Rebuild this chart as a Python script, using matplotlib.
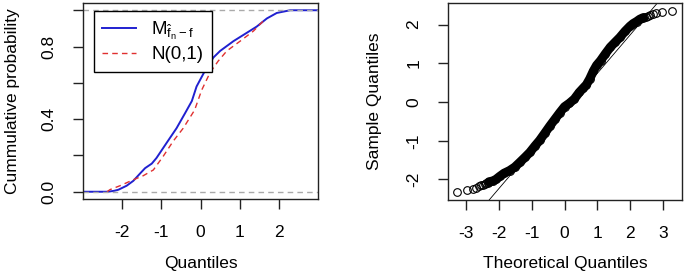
import matplotlib
matplotlib.use("Agg")
import matplotlib.pyplot as plt

plt.rcParams['font.family'] = ['Liberation Sans', 'DejaVu Sans']
plt.rcParams['mathtext.fontset'] = 'custom'
plt.rcParams['mathtext.rm'] = 'Liberation Sans'
plt.rcParams['mathtext.it'] = 'Liberation Sans'

# ECDF of M^_{f_n - f} (blue)
ecdf_x = [-2.36, -2.2, -2.09, -1.88, -1.71, -1.54, -1.41, -1.24, -1.12, -0.86,
          -0.61, -0.40, -0.22, -0.10, 0.11, 0.33, 0.50, 0.84, 1.18, 1.43,
          1.69, 1.94, 2.28]
ecdf_y = [0.0, 0.005, 0.011, 0.033, 0.06, 0.10, 0.13, 0.155, 0.186, 0.27,
          0.35, 0.43, 0.50, 0.58, 0.665, 0.74, 0.776, 0.83, 0.876, 0.91,
          0.955, 0.985, 1.0]

# N(0,1) reference curve (red dashed)
norm_x = [-2.38, -2.3, -2.05, -1.71, -1.46, -1.20, -0.95, -0.69, -0.44, -0.15,
          0.03, 0.24, 0.45, 0.67, 1.01, 1.35, 1.64]
norm_y = [0.0, 0.012, 0.033, 0.066, 0.088, 0.12, 0.195, 0.28, 0.35, 0.45,
          0.56, 0.655, 0.72, 0.776, 0.83, 0.886, 0.95]

# normal QQ plot: theoretical vs sample quantiles
qq_theo = [-3.29, -2.97, -2.81, -2.70, -2.61, -2.54, -2.48, -2.43, -2.39, -2.35,
           -2.31, -2.2, -2.1, -1.98, -1.85, -1.68, -1.52, -1.37, -1.2, -1.06,
           -0.9, -0.76, -0.6, -0.45, -0.3, -0.15, 0.0, 0.15, 0.3, 0.45,
           0.57, 0.67, 0.77, 0.88, 0.98, 1.1, 1.25, 1.4, 1.55, 1.69,
           1.85, 2.0, 2.1, 2.2, 2.3, 2.4,
           2.43, 2.48, 2.54, 2.61, 2.70, 2.81, 2.97, 3.29]
qq_sample = [-2.33, -2.27, -2.24, -2.21, -2.18, -2.15, -2.13, -2.11, -2.09, -2.08,
             -2.06, -2.04, -2.00, -1.92, -1.84, -1.77, -1.68, -1.56, -1.42, -1.30,
             -1.13, -0.99, -0.80, -0.62, -0.45, -0.28, -0.12, -0.03, 0.08, 0.25,
             0.36, 0.45, 0.60, 0.80, 0.95, 1.07, 1.25, 1.42, 1.55, 1.67,
             1.83, 1.96, 2.03, 2.08, 2.14, 2.18,
             2.19, 2.21, 2.23, 2.25, 2.28, 2.30, 2.33, 2.36]
qq_slope = 0.99
qq_intercept = -0.25

fig = plt.figure(figsize=(6.85, 2.72), dpi=100)

def style(ax):
    for s in ax.spines.values():
        s.set_linewidth(1.0)
        s.set_color('#222222')
    ax.tick_params(length=7, width=1.0, pad=12, labelsize=12.5, color='#222222')

## left panel: cumulative probabilities
ax1 = fig.add_axes([83/685, 73/272, 235/685, 196/272])
xlo, xhi = -2.99, 2.99
ax1.plot([xlo] + ecdf_x + [xhi], [0.0] + ecdf_y + [1.0], color='#2020d0', lw=1.4,
         label=r'$\mathrm{M}_{\hat{f}_n - f}$')
ax1.plot(norm_x, norm_y, color='#e03030', lw=1.0, ls=(0, (4, 3)), label='N(0,1)')
ax1.axhline(0, color='#aaaaaa', lw=1.0, ls=(0, (4, 3)))
ax1.axhline(1, color='#aaaaaa', lw=1.0, ls=(0, (4, 3)))
ax1.set_xlim(xlo, xhi)
ax1.set_ylim(-0.04, 1.04)
ax1.set_xticks([-2, -1, 0, 1, 2])
ax1.set_xticklabels(['-2', '-1', '0', '1', '2'])
ax1.set_yticks([0, 0.2, 0.4, 0.6, 0.8, 1.0])
ax1.set_yticklabels(['0.0', '', '0.4', '', '0.8', ''], rotation=90, va='center')
style(ax1)
ax1.set_xlabel('Quantiles', fontsize=12.5, va='center')
ax1.xaxis.set_label_coords(0.5, -0.327)
ax1.set_ylabel('Cummulative probability', fontsize=12.5, va='center')
ax1.yaxis.set_label_coords(-0.298, 0.5)
leg = ax1.legend(loc='upper left', bbox_to_anchor=(0.047, 0.959), borderaxespad=0,
                 fontsize=13.5, fancybox=False, edgecolor='black', framealpha=1,
                 handlelength=1.8, borderpad=0.45, labelspacing=0.25)
leg.get_frame().set_linewidth(1.0)

## right panel: normal QQ plot
ax2 = fig.add_axes([448/685, 72/272, 234/685, 197/272])
dense = [i for i, t in enumerate(qq_theo) if -2.32 <= t <= 2.41]
ax2.plot([qq_theo[i] for i in dense], [qq_sample[i] for i in dense], color='black',
         lw=6.5, solid_capstyle='round')
ax2.plot(qq_theo, qq_sample, 'o', mfc='none', mec='black', ms=5.5, mew=0.8)
ax2.axline((0, qq_intercept), slope=qq_slope, color='black', lw=0.6)
ax2.set_xlim(-3.56, 3.59)
ax2.set_ylim(-2.53, 2.56)
ax2.set_xticks([-3, -2, -1, 0, 1, 2, 3])
ax2.set_xticklabels(['-3', '-2', '-1', '0', '1', '2', '3'])
ax2.set_yticks([-2, -1, 0, 1, 2])
ax2.set_yticklabels(['-2', '-1', '0', '1', '2'], rotation=90, va='center')
style(ax2)
ax2.set_xlabel('Theoretical Quantiles', fontsize=12.5, va='center')
ax2.xaxis.set_label_coords(0.5, -0.32)
ax2.set_ylabel('Sample Quantiles', fontsize=12.5, va='center')
ax2.yaxis.set_label_coords(-0.312, 0.5)

fig.savefig('out.png', dpi=100)
